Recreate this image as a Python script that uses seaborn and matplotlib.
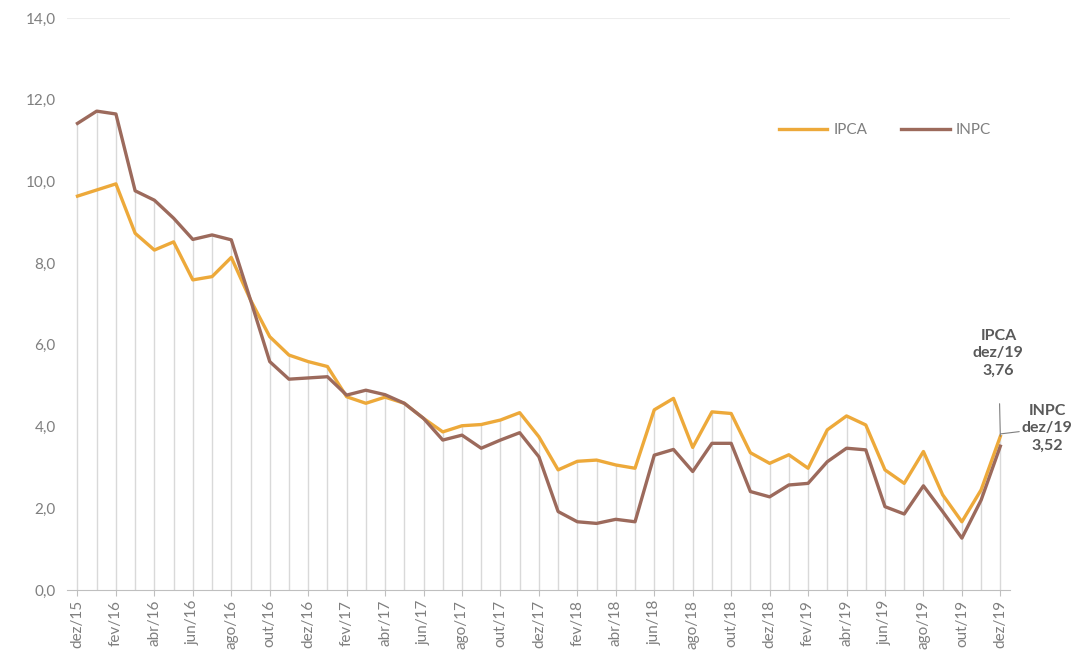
import pandas as pd
import matplotlib
matplotlib.use("Agg")
import matplotlib.pyplot as plt
import seaborn as sns

# Meses (dez/15 a dez/19)
meses = [
    "dez/15", "jan/16", "fev/16", "mar/16", "abr/16", "mai/16", "jun/16", "jul/16",
    "ago/16", "set/16", "out/16", "nov/16", "dez/16", "jan/17", "fev/17", "mar/17",
    "abr/17", "mai/17", "jun/17", "jul/17", "ago/17", "set/17", "out/17", "nov/17",
    "dez/17", "jan/18", "fev/18", "mar/18", "abr/18", "mai/18", "jun/18", "jul/18",
    "ago/18", "set/18", "out/18", "nov/18", "dez/18", "jan/19", "fev/19", "mar/19",
    "abr/19", "mai/19", "jun/19", "jul/19", "ago/19", "set/19", "out/19", "nov/19",
    "dez/19",
]

ipca = [
    9.64, 9.79, 9.94, 8.73, 8.32, 8.52, 7.59, 7.67,
    8.14, 7.10, 6.20, 5.75, 5.59, 5.47, 4.73, 4.57,
    4.72, 4.57, 4.20, 3.87, 4.02, 4.05, 4.16, 4.34,
    3.75, 2.94, 3.15, 3.18, 3.06, 2.98, 4.41, 4.69,
    3.49, 4.36, 4.32, 3.36, 3.10, 3.31, 2.98, 3.92,
    4.26, 4.04, 2.94, 2.61, 3.39, 2.33, 1.67, 2.45,
    3.76,
]

inpc = [
    11.42, 11.72, 11.65, 9.77, 9.54, 9.10, 8.58, 8.69,
    8.57, 7.10, 5.59, 5.16, 5.19, 5.22, 4.77, 4.89,
    4.78, 4.57, 4.20, 3.67, 3.79, 3.47, 3.67, 3.85,
    3.26, 1.92, 1.67, 1.63, 1.73, 1.67, 3.30, 3.44,
    2.90, 3.59, 3.59, 2.41, 2.28, 2.57, 2.61, 3.14,
    3.47, 3.43, 2.04, 1.86, 2.55, 1.92, 1.27, 2.20,
    3.52,
]

cor_ipca = "#EDA93A"
cor_inpc = "#9C6A5C"
cinza = "#7F7F7F"

plt.rcParams["font.family"] = ["Lato", "DejaVu Sans"]

n = len(meses)
pos = list(range(n))

df = pd.DataFrame({
    "pos": pos * 2,
    "valor": ipca + inpc,
    "indice": ["IPCA"] * n + ["INPC"] * n,
})

fig = plt.figure(figsize=(10.79, 6.56), dpi=100)
ax = fig.add_axes([0.062, 0.1006, 0.874, 0.872])

# linhas de queda (cinza) de 0 ate o maior valor do mes
topo = [max(a, b) for a, b in zip(ipca, inpc)]
ax.vlines(pos, 0, topo, color="#D9D9D9", linewidth=1, zorder=1)

sns.lineplot(data=df, x="pos", y="valor", hue="indice",
             palette={"IPCA": cor_ipca, "INPC": cor_inpc},
             linewidth=2.4, ax=ax, zorder=3)

ax.set_xlim(-0.55, n - 0.5)
ax.set_ylim(0, 14)
ax.set_yticks(range(0, 15, 2))
ax.set_yticklabels([f"{v:.1f}".replace(".", ",") for v in range(0, 15, 2)])
ax.set_xticks(pos[::2])
ax.set_xticklabels(meses[::2], rotation=90)
ax.tick_params(axis="y", length=0, colors=cinza, labelsize=11, pad=8)
ax.tick_params(axis="x", length=4, color="#BFBFBF", colors=cinza, labelsize=11, pad=3)
ax.set_xlabel("")
ax.set_ylabel("")

for s in ["left", "right", "top"]:
    ax.spines[s].set_visible(False)
ax.spines["bottom"].set_color("#BFBFBF")
ax.axhline(14, color="#EDEDED", linewidth=0.8, zorder=0)

# rotulos finais
ax.annotate("IPCA\ndez/19\n3,76", xy=(n - 1, ipca[-1]), xytext=(n - 1.1, 5.8),
            ha="center", va="center", fontsize=11.5, fontweight="bold",
            color="#595959", linespacing=1.3,
            arrowprops=dict(arrowstyle="-", color="#7F7F7F", lw=0.8,
                            shrinkA=17, shrinkB=0))
ax.annotate("INPC\ndez/19\n3,52", xy=(n - 1, inpc[-1] + 0.3), xytext=(n + 1.45, 3.96),
            ha="center", va="center", fontsize=11.5, fontweight="bold",
            color="#595959", linespacing=1.3, annotation_clip=False,
            arrowprops=dict(arrowstyle="-", color="#7F7F7F", lw=0.8,
                            shrinkA=24, shrinkB=0))

leg = ax.legend(loc="upper left", bbox_to_anchor=(0.74, 0.84), ncol=2, frameon=False,
                fontsize=11, handlelength=3.2, columnspacing=2.2, handletextpad=0.4)
for t in leg.get_texts():
    t.set_color(cinza)

fig.savefig("out.png", dpi=100)
